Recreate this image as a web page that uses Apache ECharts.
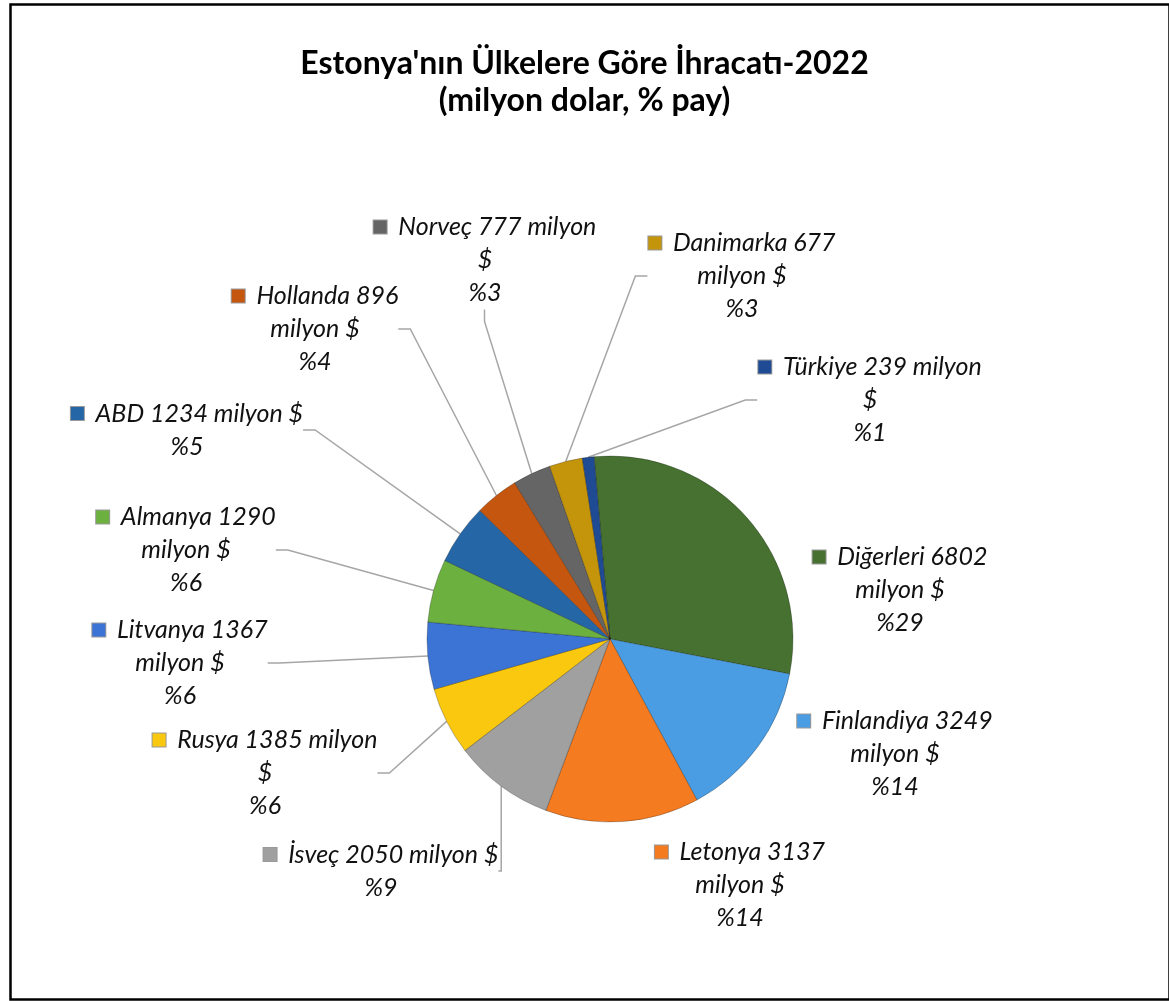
<!DOCTYPE html>
<html>
<head>
<meta charset="utf-8">
<script src="https://cdn.jsdelivr.net/npm/echarts@6/dist/echarts.min.js"></script>
<style>
html,body{margin:0;padding:0;background:#fff;}
#chart{width:1169px;height:1001px;}
</style>
</head>
<body>
<div id="chart"></div>
<script>
// ---- data ----
const categories = ['Diğerleri','Finlandiya','Letonya','İsveç','Rusya','Litvanya','Almanya','ABD','Hollanda','Norveç','Danimarka','Türkiye'];
const values = [6802,3249,3137,2050,1385,1367,1290,1234,896,777,677,239];
const titleLines = ["Estonya'nın Ülkelere Göre İhracatı-2022", "(milyon dolar, % pay)"];
const unitText = 'milyon';
const currency = '$';

// ---- styling (not data) ----
const colors = ['#467130','#4a9de2','#f47b20','#a0a0a0','#fac80e','#3b74d4','#6cb040','#2566a6','#c4560f','#656565','#c4950b','#1f4b94'];
const wrapMode = [0,0,0,2,1,0,0,2,0,1,0,1];
const showLine = [false,false,false,true,true,true,true,true,true,true,true,true];
const labelCenters = [[900,590],[895,754],[740,885],[381,871],[265,773],[180,663],[186,550],[187,430],[315,329],[485,260],[742,276],[870,400]];

const total = values.reduce((a,b)=>a+b,0);

function labelText(i){
  const name = categories[i], v = values[i];
  const pct = Math.round(v/total*100);
  let body;
  if (wrapMode[i]===0) body = name+' '+v+'\n'+unitText+' '+currency;
  else if (wrapMode[i]===1) body = name+' '+v+' '+unitText+'\n'+currency;
  else body = name+' '+v+' '+unitText+' '+currency;
  return '{sq|}  '+body+'\n%'+pct;
}

const data = categories.map((c,i)=>({
  name:c, value:values[i],
  itemStyle:{color:colors[i]},
  labelLine:{show:showLine[i]},
  label:{
    formatter: labelText(i),
    rich:{ sq:{width:13,height:13,backgroundColor:colors[i],borderColor:'rgba(0,0,0,0.4)',borderWidth:1} }
  }
}));

const chart = echarts.init(document.getElementById('chart'));
chart.setOption({
  backgroundColor:'#fff',
  animation:false,
  title:{
    text: titleLines.join('\n'),
    left:'center', top:40,
    textStyle:{fontFamily:'Lato',fontWeight:'bold',fontSize:32,lineHeight:37,color:'#000'}
  },
  graphic:[{type:'rect',left:8,top:2,shape:{x:0,y:0,width:1159,height:995},style:{fill:'none',stroke:'#000',lineWidth:2.5},silent:true}],
  series:[{
    type:'pie',
    center:[610,639],
    radius:[0,183],
    startAngle:95,
    clockwise:true,
    avoidLabelOverlap:false,
    data:data,
    itemStyle:{borderColor:'rgba(0,0,0,0.25)',borderWidth:1},
    label:{
      show:true, position:'outside',
      fontFamily:'Lato', fontStyle:'italic', fontSize:25, lineHeight:33,
      color:'#111', align:'center'
    },
    labelLine:{show:true,length:10,length2:12,smooth:false,lineStyle:{color:'#a6a6a6',width:1.5}},
    labelLayout:function(p){
      const c = labelCenters[p.dataIndex];
      return {x:c[0],y:c[1],align:'center',verticalAlign:'middle'};
    }
  }]
});
</script>
</body>
</html>
